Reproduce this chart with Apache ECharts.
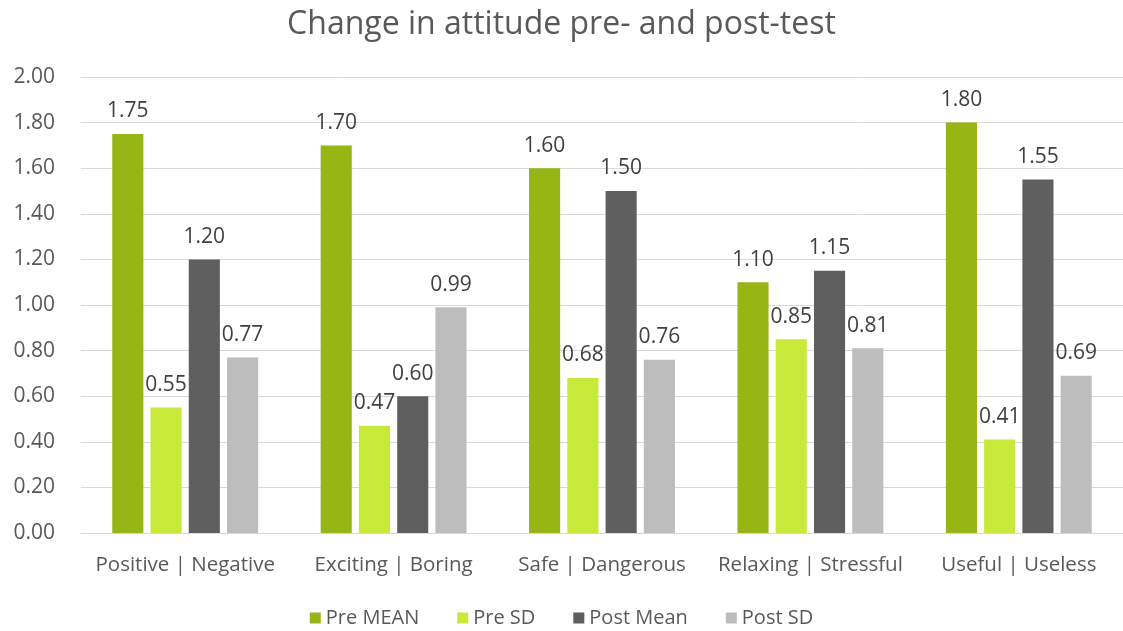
<!DOCTYPE html>
<html>
<head>
<meta charset="utf-8">
<script src="https://cdn.jsdelivr.net/npm/echarts@6/dist/echarts.min.js"></script>
<style>
  html, body { margin: 0; padding: 0; background: #fff; }
  #chart { width: 1123px; height: 631px; }
</style>
</head>
<body>
<div id="chart"></div>
<script>
// categories and series
const categories = ["Positive | Negative", "Exciting | Boring", "Safe | Dangerous", "Relaxing | Stressful", "Useful | Useless"];
const preMean = [1.75, 1.70, 1.60, 1.10, 1.80];
const preSD = [0.55, 0.47, 0.68, 0.85, 0.41];
const postMean = [1.20, 0.60, 1.50, 1.15, 1.55];
const postSD = [0.77, 0.99, 0.76, 0.81, 0.69];

const font = "'Open Sans', 'Liberation Sans', sans-serif";

function makeSeries(name, data, color) {
  return {
    name: name,
    type: "bar",
    data: data,
    barGap: "23%",
    barCategoryGap: "30%",
    itemStyle: { color: color },
    label: {
      show: true,
      position: "top",
      distance: 12,
      color: "#404040",
      fontSize: 21,
      fontFamily: font,
      formatter: function (p) { return p.value.toFixed(2); }
    }
  };
}

const chart = echarts.init(document.getElementById("chart"));
chart.setOption({
  animation: false,
  title: {
    text: "Change in attitude pre- and post-test",
    left: "center",
    top: 4,
    textStyle: { fontSize: 32, fontWeight: "normal", color: "#595959", fontFamily: font }
  },
  legend: {
    bottom: -2,
    left: "center",
    itemWidth: 11,
    itemHeight: 11,
    itemGap: 38,
    icon: "rect",
    textStyle: { fontSize: 20, color: "#595959", fontFamily: font },
    data: ["Pre MEAN", "Pre SD", "Post Mean", "Post SD"]
  },
  grid: { left: 81, right: 0, top: 77, bottom: 98 },
  xAxis: {
    type: "category",
    data: categories,
    axisLine: { lineStyle: { color: "#d9d9d9" } },
    axisTick: { show: false },
    axisLabel: { interval: 0, fontSize: 20.5, color: "#595959", fontFamily: font, margin: 22 }
  },
  yAxis: {
    type: "value",
    min: 0,
    max: 2,
    interval: 0.2,
    axisLine: { show: false },
    axisTick: { show: false },
    splitLine: { lineStyle: { color: "#d9d9d9" } },
    axisLabel: {
      fontSize: 21, color: "#595959", fontFamily: font, margin: 26,
      formatter: function (v) { return v.toFixed(2); }
    }
  },
  series: [
    makeSeries("Pre MEAN", preMean, "#97b515"),
    makeSeries("Pre SD", preSD, "#c8e83a"),
    makeSeries("Post Mean", postMean, "#5f5f5f"),
    makeSeries("Post SD", postSD, "#bdbdbd")
  ]
});
</script>
</body>
</html>
